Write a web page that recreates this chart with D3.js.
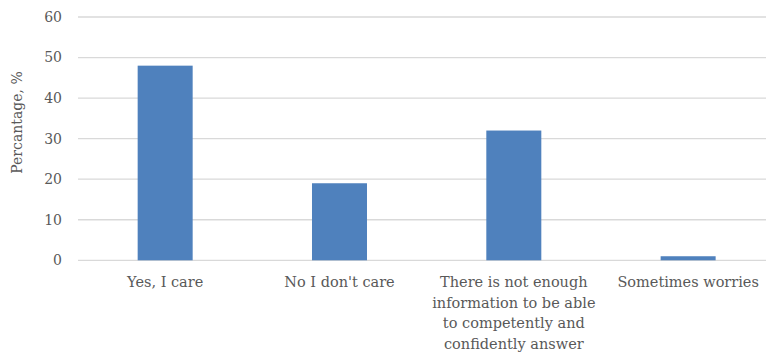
<!DOCTYPE html>
<html>
<head>
<meta charset="utf-8">
<script src="https://cdn.jsdelivr.net/npm/d3@7"></script>
<style>
  html, body { margin: 0; padding: 0; background: #fff; }
  svg { display: block; }
</style>
</head>
<body>
<svg id="chart" width="766" height="353"></svg>
<script>
const categories = [
  "Yes, I care",
  "No I don't care",
  "There is not enough\ninformation to be able\nto competently and\nconfidently answer",
  "Sometimes worries"
];
const values = [48, 19, 32, 1];
const yTicks = [0, 10, 20, 30, 40, 50, 60];
const yTitle = "Percantage, %";

const W = 766, H = 353;
const FONT = "'DejaVu Serif', 'Liberation Serif', serif";
const svg = d3.select("#chart")
  .attr("font-family", FONT)
  .style("font-family", FONT);

const x = d3.scaleBand()
  .domain(categories)
  .range([78, 775.3])
  .paddingInner(0.6845)
  .paddingOuter(0.6845 / 2);

const y = d3.scaleLinear().domain([0, 60]).range([260.3, 17]);

// gridlines
svg.append("g")
  .selectAll("line")
  .data(yTicks)
  .join("line")
  .attr("x1", 78).attr("x2", W)
  .attr("y1", d => y(d)).attr("y2", d => y(d))
  .attr("stroke", "#d9d9d9").attr("stroke-width", 1.3);

// y tick labels
svg.append("g")
  .selectAll("text")
  .data(yTicks)
  .join("text")
  .attr("x", 62)
  .attr("y", d => y(d))
  .attr("dy", "0.35em")
  .attr("text-anchor", "end")
  .attr("font-size", 14)
  .attr("fill", "#595959")
  .text(d => d);

// bars
svg.append("g")
  .selectAll("rect")
  .data(categories.map((c, i) => ({ c, v: values[i] })))
  .join("rect")
  .attr("x", d => x(d.c))
  .attr("width", x.bandwidth())
  .attr("y", d => y(d.v))
  .attr("height", d => y(0) - y(d.v))
  .attr("fill", "#4f81bd");

// x labels
const xl = svg.append("g")
  .selectAll("text")
  .data(categories)
  .join("text")
  .attr("text-anchor", "middle")
  .attr("font-size", 14.5)
  .attr("fill", "#595959")
  .attr("transform", d => `translate(${x(d) + x.bandwidth() / 2},287)`);
xl.each(function (d) {
  const lines = d.split("\n");
  d3.select(this).selectAll("tspan")
    .data(lines)
    .join("tspan")
    .attr("x", 0)
    .attr("y", (l, i) => i * 20.6)
    .text(l => l);
});

// y title
svg.append("text")
  .attr("transform", "translate(22,122.5) rotate(-90)")
  .attr("text-anchor", "middle")
  .attr("font-size", 14)
  .attr("fill", "#595959")
  .text(yTitle);
</script>
</body>
</html>
